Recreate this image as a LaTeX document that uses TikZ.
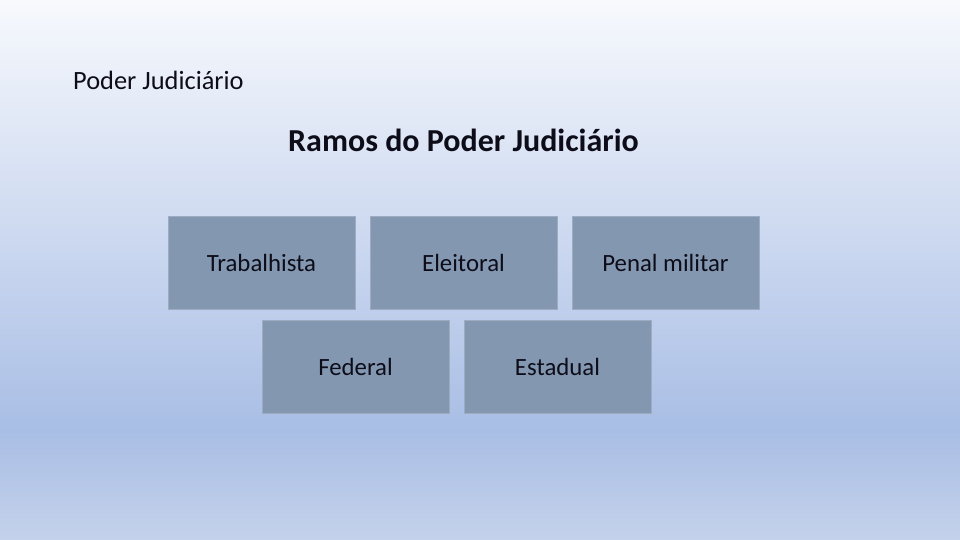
\documentclass[tikz,border=0pt]{standalone}
\usepackage{fontspec}
\setmainfont{Carlito}
\definecolor{bgtop}{HTML}{F7F9FD}
\definecolor{bgmid}{HTML}{A9BEE5}
\definecolor{bgbot}{HTML}{C4D2EB}
\definecolor{boxfill}{HTML}{8497B0}
\definecolor{txt}{HTML}{0D0D1A}
\tikzset{
  branch/.style={draw=boxfill!80!white, line width=0.5pt, fill=boxfill, minimum width=187pt, minimum height=93pt, inner sep=0pt, font=\fontsize{24.8}{28}\selectfont, text=txt},
}
\begin{document}
\begin{tikzpicture}[x=1pt,y=-1pt]
\useasboundingbox (0,0) rectangle (960,540);
\shade[top color=bgtop, bottom color=bgmid] (0,0) rectangle (960,430);
\shade[top color=bgmid, bottom color=bgbot] (0,430) rectangle (960,540);
\node[anchor=west, font=\fontsize{26.4}{30}\selectfont, text=txt, inner sep=0pt] (top) at (73,80) {Poder Judiciário};
\node[font=\fontsize{32}{36}\selectfont\bfseries, text=txt, inner sep=0pt] (title) at (463.5,140) {Ramos do Poder Judiciário};
\node[branch] (trab) at (261.5,262.5) {Trabalhista};
\node[branch] (elei) at (463.5,262.5) {Eleitoral};
\node[branch] (penal) at (665.5,262.5) {Penal militar};
\node[branch] (fed) at (355.5,366.5) {Federal};
\node[branch] (est) at (557.5,366.5) {Estadual};
\end{tikzpicture}
\end{document}
